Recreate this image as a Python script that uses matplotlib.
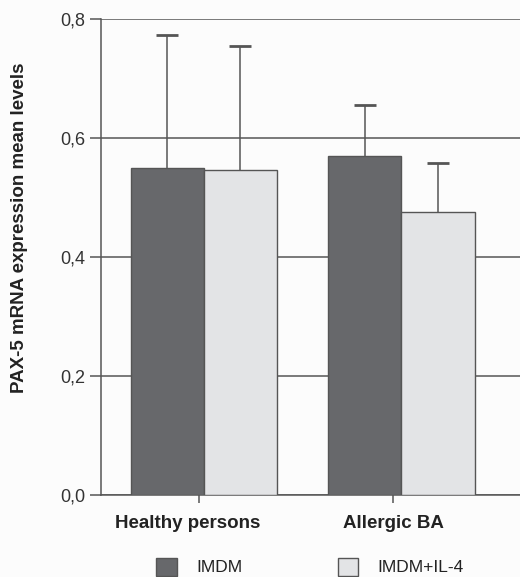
import matplotlib
matplotlib.use("Agg")
import matplotlib.pyplot as plt
import matplotlib.transforms as mtransforms
import numpy as np

plt.rcParams['font.family'] = ['Liberation Sans', 'DejaVu Sans']

categories = ["Healthy persons", "Allergic BA"]
series_names = ["IMDM", "IMDM+IL-4"]
imdm = [0.550, 0.570]
imdm_il4 = [0.547, 0.476]
imdm_err = [0.223, 0.085]
imdm_il4_err = [0.208, 0.082]
yticks = [0.0, 0.2, 0.4, 0.6, 0.8]
ytick_labels = ["0,0", "0,2", "0,4", "0,6", "0,8"]

dark = "#67686b"
light = "#e3e4e6"
edge = "#555555"

fig = plt.figure(figsize=(5.2, 5.77), dpi=100)
fig.patch.set_facecolor("#fcfcfc")
ax = fig.add_axes([0.194, 0.142, 0.806, 0.825])
ax.set_facecolor("#fcfcfc")

x = np.arange(len(categories))
w = 0.37
ax.set_axisbelow(True)
ax.yaxis.grid(True, color="#555555", linewidth=1.1)
b1 = ax.bar(x - w/2, imdm, w, color=dark, edgecolor=edge, linewidth=1.0,
            label=series_names[0], zorder=3)
b2 = ax.bar(x + w/2, imdm_il4, w, color=light, edgecolor=edge, linewidth=1.0,
            label=series_names[1], zorder=3)
ax.errorbar(x - w/2, imdm, yerr=imdm_err, fmt="none", ecolor="#555555",
            elinewidth=1.1, capsize=8, capthick=2.0, zorder=2)
ax.errorbar(x + w/2, imdm_il4, yerr=imdm_il4_err, fmt="none", ecolor="#555555",
            elinewidth=1.1, capsize=8, capthick=2.0, zorder=2)

ax.set_xlim(-0.52, 1.6)
ax.set_ylim(0, 0.8)
ax.set_yticks(yticks)
ax.set_yticklabels(ytick_labels, fontsize=13, color="#333333")
ax.set_xticks([-0.025, 0.96])
ax.set_xticklabels(categories, fontsize=13.5, fontweight="bold", color="#222222")
ax.tick_params(axis="y", length=8, width=1.1, color="#555555", pad=3.5)
ax.tick_params(axis="x", length=6, width=1.1, color="#555555", pad=8.5)
lbl0 = ax.get_xticklabels()[0]
lbl0.set_transform(lbl0.get_transform() + mtransforms.ScaledTranslation(-11/100, 0, fig.dpi_scale_trans))
for s in ["top", "right"]:
    ax.spines[s].set_visible(False)
for s in ["left", "bottom"]:
    ax.spines[s].set_color("#555555")
    ax.spines[s].set_linewidth(1.1)

ax.set_ylabel("PAX-5 mRNA expression mean levels", fontsize=13.5, fontweight="bold", color="#222222")
ax.yaxis.set_label_coords(-0.174, 0.561)

fig.legend(handles=[b1, b2], labels=series_names, loc="center", bbox_to_anchor=(0.596, 0.018),
           ncol=2, frameon=False, fontsize=12.5, handlelength=1.2, handleheight=1.2,
           handletextpad=1.1, columnspacing=5.5, labelcolor="#222222")

fig.savefig("out.png", dpi=100, facecolor=fig.get_facecolor())
